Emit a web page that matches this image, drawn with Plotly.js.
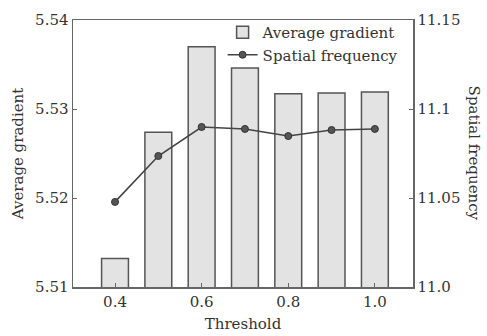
<!DOCTYPE html>
<html>
<head>
<meta charset="utf-8">
<script src="https://cdn.plot.ly/plotly-3.0.1.min.js"></script>
<style>html,body{margin:0;padding:0;background:#fff;}#chart{width:487px;height:336px;}</style>
</head>
<body>
<div id="chart"></div>
<script>
const thresholds = [0.4, 0.5, 0.6, 0.7, 0.8, 0.9, 1.0];
const avgGradient = [5.5132, 5.5274, 5.5370, 5.5346, 5.5317, 5.5318, 5.5319];
const spatialFreq = [11.0478, 11.0736, 11.0899, 11.0888, 11.0848, 11.0882, 11.0888];
const xTickVals = [0.4, 0.6, 0.8, 1.0];
const xTickText = ["0.4", "0.6", "0.8", "1.0"];
const yTickVals = [5.51, 5.52, 5.53, 5.54];
const yTickText = ["5.51", "5.52", "5.53", "5.54"];
const y2TickVals = [11.0, 11.05, 11.1, 11.15];
const y2TickText = ["11.0", "11.05", "11.1", "11.15"];

const FONT = "DejaVu Serif, Liberation Serif, serif";
const axisCol = "#666";

const traces = [
  {
    type: "bar", name: "Average gradient",
    x: thresholds, y: avgGradient, width: 0.062,
    marker: {color: "#e3e3e3", line: {color: "#555", width: 1.5}},
    yaxis: "y"
  },
  {
    type: "scatter", mode: "lines+markers", name: "Spatial frequency",
    x: thresholds, y: spatialFreq, yaxis: "y2",
    line: {color: "#444", width: 1.6},
    marker: {symbol: "circle", size: 7, color: "#555", line: {color: "#333", width: 1}}
  }
];

const layout = {
  width: 487, height: 336,
  margin: {l: 73, r: 74, t: 20, b: 49},
  paper_bgcolor: "#fff", plot_bgcolor: "#fff",
  font: {family: FONT, size: 15, color: "#333"},
  showlegend: true,
  legend: {x: 0.44, y: 1.015, xanchor: "left", yanchor: "top", bgcolor: "rgba(255,255,255,0)",
           font: {family: FONT, size: 15, color: "#333"}, tracegroupgap: 0, itemwidth: 30},
  xaxis: {
    range: [0.303, 1.088], tickvals: xTickVals, ticktext: xTickText,
    ticks: "inside", ticklen: 4, tickcolor: axisCol, showgrid: false, zeroline: false,
    showline: true, linecolor: axisCol, linewidth: 1.5, mirror: true,
    title: {text: "Threshold", font: {family: FONT, size: 15, color: "#333"}, standoff: 9}
  },
  yaxis: {
    range: [5.51, 5.54], tickvals: yTickVals, ticktext: yTickText,
    ticks: "inside", ticklen: 4, tickcolor: axisCol, showgrid: false, zeroline: false,
    showline: true, linecolor: axisCol, linewidth: 1.5,
    title: {text: "Average gradient", font: {family: FONT, size: 15, color: "#333"}, standoff: 8}
  },
  yaxis2: {
    overlaying: "y", side: "right",
    range: [11.0, 11.15], tickvals: y2TickVals, ticktext: y2TickText,
    ticks: "inside", ticklen: 4, tickcolor: axisCol, showgrid: false, zeroline: false,
    showline: true, linecolor: axisCol, linewidth: 1.5
  },
  annotations: [
    {text: "Spatial frequency", xref: "paper", yref: "paper", x: 1.182, y: 0.5,
     xanchor: "center", yanchor: "middle", textangle: 90, showarrow: false,
     font: {family: FONT, size: 15, color: "#333"}}
  ]
};

Plotly.newPlot("chart", traces, layout, {displayModeBar: false, staticPlot: true});
</script>
</body>
</html>
